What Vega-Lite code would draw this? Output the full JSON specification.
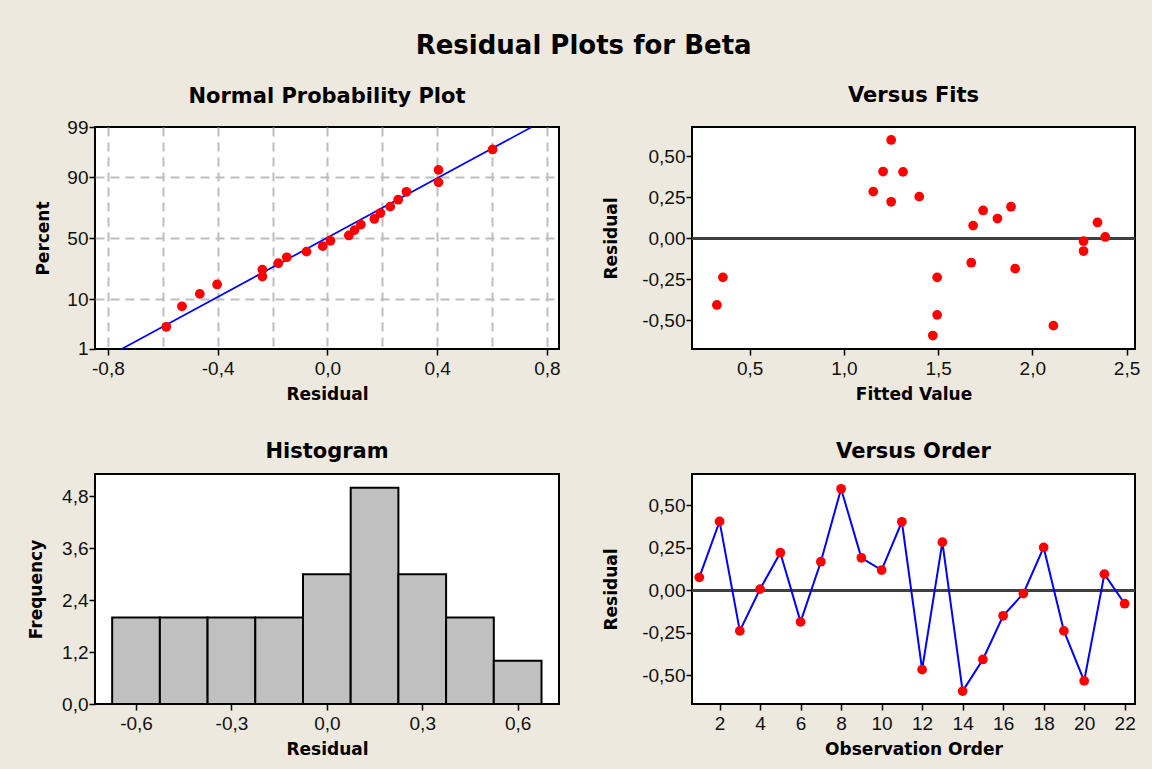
{
  "$schema": "https://vega.github.io/schema/vega-lite/v6.json",
  "autosize": {"type": "none"},
  "padding": {"left": 95, "top": 127, "right": 1057, "bottom": 642},
  "background": "#EDE9DF",
  "title": {"text": "Residual Plots for Beta", "fontSize": 26, "offset": 4, "anchor": "middle", "frame": "bounds", "baseline": "alphabetic"},
  "config": {
    "locale": {"number": {"decimal": ",", "thousands": ".", "grouping": [3], "currency": ["", ""], "minus": "-"}},
    "view": {"fill": "white", "stroke": "black", "strokeWidth": 2},
    "axis": {
      "domain": false, "grid": false,
      "tickColor": "black", "tickSize": 6, "tickWidth": 1.5,
      "labelFont": "Liberation Sans", "labelFontSize": 19, "labelColor": "#111111",
      "titleFont": "DejaVu Sans", "titleFontWeight": "bold", "titleFontSize": 17, "titleColor": "black"
    },
    "axisX": {"labelPadding": 4, "titlePadding": 8},
    "axisY": {"labelPadding": 1},
    "title": {"font": "DejaVu Sans", "fontWeight": "bold", "fontSize": 21, "color": "black", "frame": "group", "anchor": "middle", "baseline": "alphabetic", "offset": 21}
  },
  "datasets": {
    "obs": [
      {"order": 1, "fit": 1.686, "residual": 0.077},
      {"order": 2, "fit": 1.208, "residual": 0.406},
      {"order": 3, "fit": 0.358, "residual": -0.238},
      {"order": 4, "fit": 2.387, "residual": 0.008},
      {"order": 5, "fit": 1.251, "residual": 0.222},
      {"order": 6, "fit": 1.909, "residual": -0.185},
      {"order": 7, "fit": 1.739, "residual": 0.169},
      {"order": 8, "fit": 1.251, "residual": 0.598},
      {"order": 9, "fit": 1.887, "residual": 0.192},
      {"order": 10, "fit": 1.815, "residual": 0.12},
      {"order": 11, "fit": 1.314, "residual": 0.404},
      {"order": 12, "fit": 1.495, "residual": -0.466},
      {"order": 13, "fit": 1.156, "residual": 0.284},
      {"order": 14, "fit": 1.472, "residual": -0.592},
      {"order": 15, "fit": 0.326, "residual": -0.406},
      {"order": 16, "fit": 1.676, "residual": -0.149},
      {"order": 17, "fit": 2.272, "residual": -0.018},
      {"order": 18, "fit": 1.4, "residual": 0.253},
      {"order": 19, "fit": 1.495, "residual": -0.238},
      {"order": 20, "fit": 2.112, "residual": -0.532},
      {"order": 21, "fit": 2.346, "residual": 0.096},
      {"order": 22, "fit": 2.272, "residual": -0.078}
    ],
    "npp": [
      {"residual": -0.587, "z": -1.863},
      {"residual": -0.53, "z": -1.433},
      {"residual": -0.465, "z": -1.172},
      {"residual": -0.402, "z": -0.974},
      {"residual": -0.237, "z": -0.807},
      {"residual": -0.237, "z": -0.661},
      {"residual": -0.179, "z": -0.527},
      {"residual": -0.148, "z": -0.402},
      {"residual": -0.076, "z": -0.284},
      {"residual": -0.017, "z": -0.169},
      {"residual": 0.011, "z": -0.056},
      {"residual": 0.078, "z": 0.056},
      {"residual": 0.099, "z": 0.169},
      {"residual": 0.122, "z": 0.284},
      {"residual": 0.171, "z": 0.402},
      {"residual": 0.193, "z": 0.527},
      {"residual": 0.229, "z": 0.661},
      {"residual": 0.258, "z": 0.807},
      {"residual": 0.288, "z": 0.974},
      {"residual": 0.405, "z": 1.172},
      {"residual": 0.405, "z": 1.433},
      {"residual": 0.602, "z": 1.863}
    ],
    "fitline": [
      {"residual": -0.75, "z": -2.33},
      {"residual": 0.743, "z": 2.33}
    ],
    "hist": [
      {"bin_start": -0.675, "bin_end": -0.525, "count": 2},
      {"bin_start": -0.525, "bin_end": -0.375, "count": 2},
      {"bin_start": -0.375, "bin_end": -0.225, "count": 2},
      {"bin_start": -0.225, "bin_end": -0.075, "count": 2},
      {"bin_start": -0.075, "bin_end": 0.075, "count": 3},
      {"bin_start": 0.075, "bin_end": 0.225, "count": 5},
      {"bin_start": 0.225, "bin_end": 0.375, "count": 3},
      {"bin_start": 0.375, "bin_end": 0.525, "count": 2},
      {"bin_start": 0.525, "bin_end": 0.675, "count": 1}
    ]
  },
  "columns": 2,
  "spacing": {"row": 125, "column": 133},
  "bounds": "flush",
  "concat": [
    {
      "width": 464, "height": 222,
      "title": {"text": "Normal Probability Plot", "offset": 11},
      "layer": [
        {
          "data": {"name": "fitline"},
          "mark": {"type": "line", "color": "#0000FF", "strokeWidth": 1.7},
          "encoding": {
            "x": {"field": "residual", "type": "quantitative",
              "scale": {"domain": [-0.847, 0.844], "nice": false, "zero": false},
              "axis": {"title": "Residual", "values": [-0.8, -0.6, -0.4, -0.2, 0, 0.2, 0.4, 0.6, 0.8], "format": ".1f",
                "labelExpr": "abs(round(datum.value*10)) % 4 == 0 ? datum.label : ''",
                "tickOpacity": {"condition": {"test": "abs(round(datum.value*10)) % 4 == 0", "value": 1}, "value": 0},
                "grid": true, "gridColor": "#BDBDBD", "gridDash": [9, 6], "gridWidth": 2}},
            "y": {"field": "z", "type": "quantitative",
              "scale": {"domain": [-2.33, 2.335], "nice": false, "zero": false},
              "axis": {"title": "Percent", "titlePadding": 14, "values": [-2.3263, -1.2816, 0, 1.2816, 2.3263],
                "labelExpr": "datum.value < -2 ? '1' : datum.value < -1 ? '10' : datum.value < 1 ? '50' : datum.value < 2 ? '90' : '99'",
                "grid": true, "gridColor": "#BDBDBD", "gridDash": [9, 6], "gridWidth": 2,
                "gridOpacity": {"condition": {"test": "abs(datum.value) < 2", "value": 1}, "value": 0}}}
          }
        },
        {
          "data": {"name": "npp"},
          "mark": {"type": "circle", "color": "#FF0000", "size": 95, "opacity": 1},
          "encoding": {
            "x": {"field": "residual", "type": "quantitative"},
            "y": {"field": "z", "type": "quantitative"}
          }
        }
      ]
    },
    {
      "width": 443, "height": 222,
      "title": "Versus Fits",
      "data": {"name": "obs"},
      "layer": [
        {
          "mark": {"type": "rule", "color": "#404040", "strokeWidth": 2},
          "encoding": {"y": {"datum": 0, "type": "quantitative"}}
        },
        {
          "mark": {"type": "circle", "color": "#FF0000", "size": 95, "opacity": 1},
          "encoding": {
            "x": {"field": "fit", "type": "quantitative",
              "scale": {"domain": [0.194, 2.545], "nice": false, "zero": false},
              "axis": {"title": "Fitted Value", "values": [0.5, 1, 1.5, 2, 2.5], "format": ".1f"}},
            "y": {"field": "residual", "type": "quantitative",
              "scale": {"domain": [-0.674, 0.677], "nice": false, "zero": false},
              "axis": {"title": "Residual", "titlePadding": 21, "values": [-0.5, -0.25, 0, 0.25, 0.5], "format": ".2f"}}
          }
        }
      ]
    },
    {
      "width": 464, "height": 230,
      "title": {"text": "Histogram", "offset": 12},
      "data": {"name": "hist"},
      "mark": {"type": "rect", "fill": "#C0C0C0", "stroke": "black", "strokeWidth": 2},
      "encoding": {
        "x": {"field": "bin_start", "type": "quantitative",
          "scale": {"domain": [-0.729, 0.73], "nice": false, "zero": false},
          "axis": {"title": "Residual", "values": [-0.6, -0.3, 0, 0.3, 0.6], "format": ".1f"}},
        "x2": {"field": "bin_end"},
        "y": {"field": "count", "type": "quantitative",
          "scale": {"domain": [0, 5.32], "nice": false, "zero": false},
          "axis": {"title": "Frequency", "titlePadding": 16, "values": [0, 1.2, 2.4, 3.6, 4.8], "format": ".1f"}}
      }
    },
    {
      "width": 443, "height": 230,
      "title": {"text": "Versus Order", "offset": 12},
      "data": {"name": "obs"},
      "layer": [
        {
          "mark": {"type": "rule", "color": "#404040", "strokeWidth": 2},
          "encoding": {"y": {"datum": 0, "type": "quantitative"}}
        },
        {
          "mark": {"type": "line", "color": "#0000FF", "strokeWidth": 2},
          "encoding": {
            "x": {"field": "order", "type": "quantitative",
              "scale": {"domain": [0.639, 22.51], "nice": false, "zero": false},
              "axis": {"title": "Observation Order", "values": [2, 4, 6, 8, 10, 12, 14, 16, 18, 20, 22], "format": "d"}},
            "y": {"field": "residual", "type": "quantitative",
              "scale": {"domain": [-0.668, 0.685], "nice": false, "zero": false},
              "axis": {"title": "Residual", "titlePadding": 21, "values": [-0.5, -0.25, 0, 0.25, 0.5], "format": ".2f"}}
          }
        },
        {
          "mark": {"type": "circle", "color": "#FF0000", "size": 95, "opacity": 1},
          "encoding": {
            "x": {"field": "order", "type": "quantitative"},
            "y": {"field": "residual", "type": "quantitative"}
          }
        }
      ]
    }
  ]
}
